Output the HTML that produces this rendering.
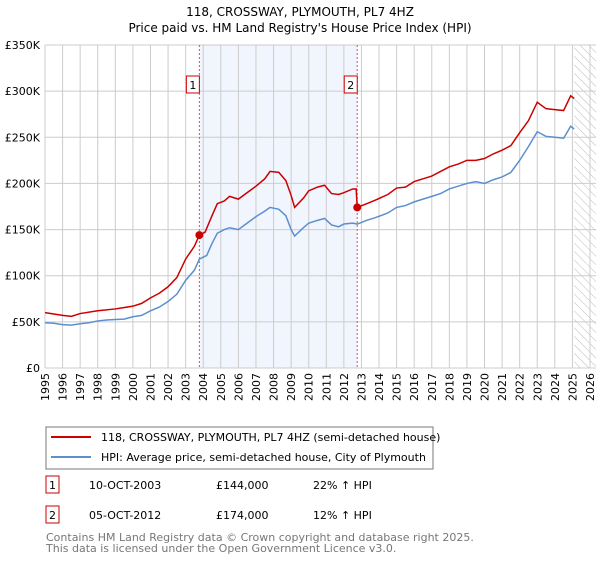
<!DOCTYPE html>
<html><head><meta charset="utf-8"><style>
body{margin:0;background:#fff;font-family:"Liberation Sans","DejaVu Sans",sans-serif;}
svg text{font-family:"DejaVu Sans","Liberation Sans",sans-serif;}
</style></head><body>
<svg id="c" width="600" height="560" viewBox="0 0 600 560">
<defs><pattern id="hatch" width="6" height="6" patternUnits="userSpaceOnUse" patternTransform="rotate(-45)"><line x1="0" y1="0" x2="0" y2="6" stroke="#bbb" stroke-width="1"/></pattern></defs>
<text x="300" y="16" text-anchor="middle" font-size="12">118, CROSSWAY, PLYMOUTH, PL7 4HZ</text>
<text x="300" y="32" text-anchor="middle" font-size="12">Price paid vs. HM Land Registry's House Price Index (HPI)</text>
<g id="plot"></g>
<g>
<rect x="46" y="427" width="387" height="42" fill="#fff" stroke="#777"/>
<line x1="51" y1="437" x2="91" y2="437" stroke="#cc0000" stroke-width="2"/>
<text x="101" y="441" font-size="11">118, CROSSWAY, PLYMOUTH, PL7 4HZ (semi-detached house)</text>
<line x1="51" y1="457" x2="91" y2="457" stroke="#5b8fd0" stroke-width="2"/>
<text x="101" y="461" font-size="11">HPI: Average price, semi-detached house, City of Plymouth</text>
</g>
<g font-size="11">
<rect x="46" y="476" width="13" height="17" fill="#fff" stroke="#cc0000"/><text x="52.5" y="489" text-anchor="middle">1</text>
<text x="89" y="489">10-OCT-2003</text><text x="216" y="489">£144,000</text><text x="313" y="489">22% ↑ HPI</text>
<rect x="46" y="506" width="13" height="17" fill="#fff" stroke="#cc0000"/><text x="52.5" y="519" text-anchor="middle">2</text>
<text x="89" y="519">05-OCT-2012</text><text x="216" y="519">£174,000</text><text x="313" y="519">12% ↑ HPI</text>
</g>
<text x="46" y="541" font-size="11" fill="#777">Contains HM Land Registry data © Crown copyright and database right 2025.</text>
<text x="46" y="552" font-size="11" fill="#777">This data is licensed under the Open Government Licence v3.0.</text>
</svg>
<script>
const yTicks=[0,50,100,150,200,250,300,350];
const years=[];for(let y=1995;y<=2026;y++)years.push(y);
const hpiT=[1995,1995.5,1996,1996.5,1997,1997.5,1998,1998.5,1999,1999.5,2000,2000.5,2001,2001.5,2002,2002.5,2003,2003.5,2003.78,2004.2,2004.5,2004.8,2005.2,2005.5,2006,2006.5,2007,2007.5,2007.8,2008.3,2008.7,2009,2009.2,2009.7,2010,2010.5,2010.9,2011.3,2011.7,2012,2012.5,2012.76,2013.3,2013.8,2014.5,2015,2015.5,2016,2016.5,2017,2017.5,2018,2018.5,2019,2019.5,2020,2020.5,2021,2021.5,2022,2022.5,2023,2023.5,2024,2024.5,2024.9,2025.1];
const hpiV=[49,48.5,47,46.5,48,49,51,52,52.5,53,55.5,57,62,66,72,80,95,106,118,122,135,146,150,152,150,157,164,170,174,172,165,150,143,152,157,160,162,155,153,156,157,156,160,163,168,174,176,180,183,186,189,194,197,200,202,200,204,207,212,225,240,256,251,250,249,262,259];
const redT=[1995,1996,1996.5,1997,1998,1999,2000,2000.5,2001,2001.5,2002,2002.5,2003,2003.5,2003.78,2004.1,2004.5,2004.8,2005.2,2005.5,2006,2006.5,2007,2007.5,2007.8,2008.3,2008.7,2009,2009.2,2009.7,2010,2010.5,2010.9,2011.3,2011.7,2012,2012.5,2012.7,2012.76,2013.3,2013.8,2014.5,2015,2015.5,2016,2016.5,2017,2017.5,2018,2018.5,2019,2019.5,2020,2020.5,2021,2021.5,2022,2022.5,2023,2023.5,2024,2024.5,2024.9,2025.1];
const redV=[60,57,56,59,62,64,67,70,76,81,88,98,118,132,144,147,165,178,181,186,183,190,197,205,213,212,203,187,174,184,192,196,198,189,188,190,194,194,174,178,182,188,195,196,202,205,208,213,218,221,225,225,227,232,236,241,255,268,288,281,280,279,295,292];
const saleT=[2003.78,2012.76];
const saleV=[144,174];
const saleLabels=["1","2"];
const X0=45,X1=596,Y0=368,Y1=45;
const xs=t=>X0+(t-1995)*(590-45)/31;
const ys=v=>Y0-v*(Y0-Y1)/350;
const NS="http://www.w3.org/2000/svg";
const g=document.getElementById('plot');
function mk(tag,attrs){const e=document.createElementNS(NS,tag);for(const k in attrs)e.setAttribute(k,attrs[k]);g.appendChild(e);return e;}
let e;
e=mk('rect',{x:xs(saleT[0]),y:Y1,width:xs(saleT[1])-xs(saleT[0]),height:Y0-Y1,fill:'#eef3fc',opacity:0.8});


e=mk('rect',{x:xs(2025.1),y:Y1,width:X1-xs(2025.1),height:Y0-Y1,fill:'url(#hatch)'});


years.forEach(y=>{
 e=mk('line',{x1:xs(y),x2:xs(y),y1:Y1,y2:Y0,stroke:'#ccc'});
 
 
 e=mk('text',{transform:`translate(${xs(y)+4},${Y0+5}) rotate(-90)`,'text-anchor':'end','font-size':11});
 e.textContent=y;
 
 
});
yTicks.forEach(v=>{
 e=mk('line',{x1:X0,x2:X1,y1:ys(v),y2:ys(v),stroke:'#ccc'});
 
 
 e=mk('text',{x:X0-5,y:ys(v)+4,'text-anchor':'end','font-size':11});
 e.textContent=v===0?'£0':'£'+v+'K';
 
 
});
saleT.forEach((t,i)=>{
 e=mk('line',{x1:xs(t),x2:xs(t),y1:Y1,y2:Y0,stroke:'#e05050','stroke-dasharray':'2,2'});
 
 
 e=mk('rect',{x:xs(t)-13,y:76,width:13,height:17,fill:'#fff',stroke:'#cc0000'});
 
 
 e=mk('text',{x:xs(t)-6.5,y:89,'text-anchor':'middle','font-size':11});
 e.textContent=saleLabels[i];
 
 
});
e=mk('polyline',{points:hpiT.map((t,i)=>xs(t)+','+ys(hpiV[i])).join(' '),fill:'none',stroke:'#5b8fd0','stroke-width':1.5});


e=mk('polyline',{points:redT.map((t,i)=>xs(t)+','+ys(redV[i])).join(' '),fill:'none',stroke:'#cc0000','stroke-width':1.5});


saleT.forEach((t,i)=>{
 e=mk('circle',{cx:xs(t),cy:ys(saleV[i]),r:4,fill:'#cc0000'});
 
 
});
</script>
</body></html>
